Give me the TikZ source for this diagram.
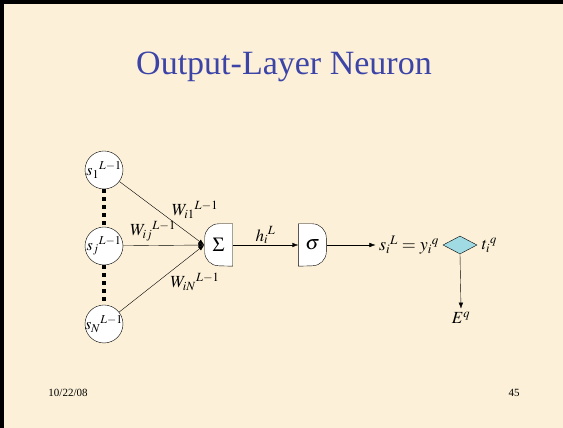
\documentclass[tikz,border=0pt]{standalone}
\usepackage{mathptmx}
\usepackage[no-math]{fontspec}
\setmainfont{Liberation Serif}
\usetikzlibrary{positioning, arrows.meta, shapes.geometric, backgrounds}
\DeclareMathSizes{16}{16}{12}{9}
\DeclareMathSizes{17}{17}{12.5}{10}
\DeclareMathSizes{18}{18}{13}{10}
\DeclareMathSizes{20}{20}{15}{12}

\definecolor{slidebg}{RGB}{252,241,216}
\definecolor{titleblue}{RGB}{61,68,168}
\definecolor{cmpcyan}{RGB}{160,218,226}

\begin{document}
\begin{tikzpicture}[x=1pt, y=1pt,
    unit/.style={circle, draw, fill=white, minimum size=38pt, inner sep=-5pt, font=\fontsize{16}{16}\selectfont},
    gate/.style={minimum width=28pt, minimum height=42pt, inner sep=0pt, font=\fontsize{20}{20}\selectfont},
    wlabel/.style={font=\fontsize{17}{17}\selectfont},
    link/.style={-{Latex[length=6pt,width=4.5pt]}},
    dots/.style={line width=4pt, dash pattern=on 4pt off 4pt}]
    \useasboundingbox (0,0) rectangle (563,428);

    \node[font=\fontsize{34}{34}\selectfont, text=titleblue] (title) at (284,361) {Output-Layer Neuron};

    % inputs
    \foreach \n/\y in {1/258, j/182, N/104}
        \node[unit] (s\n) at (104,\y) {$s_{\n}{}^{L-1}$};
    \draw[dots] (s1.south) -- (sj.north);
    \draw[dots] (sj.south) -- (sN.north);

    % gates
    \node[gate] (sum) at (218.5,183) {$\Sigma$};
    \node[gate] (sig) at (312.5,183) {$\sigma$};
    \node[font=\fontsize{18}{18}\selectfont] (out) at (409,183) {$s_i{}^L = y_i{}^q$};
    \node[diamond, draw, fill=cmpcyan, minimum width=34pt, minimum height=18pt, inner sep=0pt] (cmp) at (460,183) {};
    \node[wlabel, right=1pt of cmp] (tq) {$t_i{}^q$};
    \node[wlabel] (err) at (461,110) {$E^q$};

    \foreach \n in {1,j,N}
        \draw[link] (s\n) -- (sum.west);
    \node[wlabel] (w1) at (195,218) {$W_{i1}{}^{L-1}$};
    \node[wlabel] (wj) at (153,197) {$W_{ij}{}^{L-1}$};
    \node[wlabel] (wN) at (195,146) {$W_{iN}{}^{L-1}$};

    \draw[link] (sum.east) -- node[wlabel, above, inner sep=1pt] (h) {$h_i{}^L$} (sig.west);
    \draw[link] (sig.east) -- (out.west);
    \draw[link] (cmp.south) -- (err.north);

    \node[font=\fontsize{11}{11}\selectfont] (date) at (68,35) {10/22/08};
    \node[font=\fontsize{11}{11}\selectfont] (page) at (514,35) {45};

    \begin{scope}[on background layer]
        \fill[slidebg] (0,0) rectangle (563,428);
        \draw[line width=4pt] (2,0) -- (2,426) -- (563,426);
        \draw[fill=white] (sum.north east) -- ++(-14,0) arc[start angle=90, end angle=180, radius=14]
            -- ++(0,-14) arc[start angle=180, end angle=270, radius=14] -- (sum.south east) -- cycle;
        \draw[fill=white] (sig.north west) -- ++(14,0) arc[start angle=90, end angle=0, radius=14]
            -- ++(0,-14) arc[start angle=0, end angle=-90, radius=14] -- (sig.south west) -- cycle;
    \end{scope}
\end{tikzpicture}
\end{document}
